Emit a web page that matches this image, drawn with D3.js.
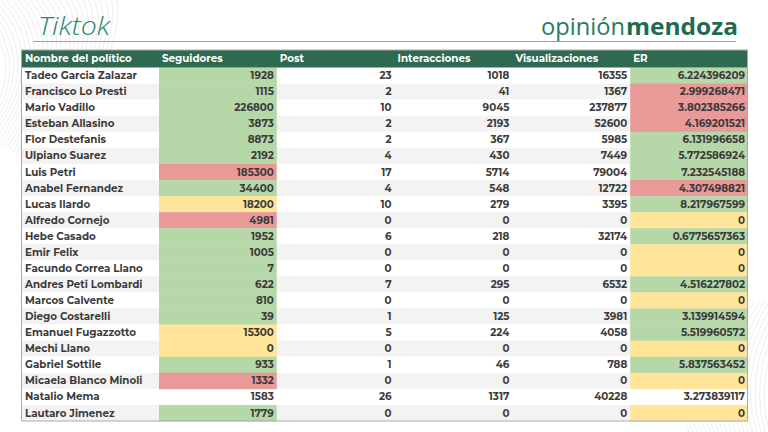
<!DOCTYPE html>
<html><head><meta charset="utf-8">
<script src="https://cdn.jsdelivr.net/npm/d3@7"></script>
<style>html,body{margin:0;padding:0;background:#fff;overflow:hidden}</style>
</head><body><svg id="c" width="768" height="432"></svg>
<script>
const names = ["Tadeo Garcia Zalazar","Francisco Lo Presti","Mario Vadillo","Esteban Allasino","Flor Destefanis","Ulpiano Suarez","Luis Petri","Anabel Fernandez","Lucas Ilardo","Alfredo Cornejo","Hebe Casado","Emir Felix","Facundo Correa Llano","Andres Peti Lombardi","Marcos Calvente","Diego Costarelli","Emanuel Fugazzotto","Mechi Llano","Gabriel Sottile","Micaela Blanco Minoli","Natalio Mema","Lautaro Jimenez"];
const seguidores = [1928,1115,226800,3873,8873,2192,185300,34400,18200,4981,1952,1005,7,622,810,39,15300,0,933,1332,1583,1779];
const posts = [23,2,10,2,2,4,17,4,10,0,6,0,0,7,0,1,5,0,1,0,26,0];
const interacciones = [1018,41,9045,2193,367,430,5714,548,279,0,218,0,0,295,0,125,224,0,46,0,1317,0];
const visualizaciones = [16355,1367,237877,52600,5985,7449,79004,12722,3395,0,32174,0,0,6532,0,3981,4058,0,788,0,40228,0];
const er = ["6.224396209","2.999268471","3.802385266","4.169201521","6.131996658","5.772586924","7.232545188","4.307498821","8.217967599","0","0.6775657363","0","0","4.516227802","0","3.139914594","5.519960572","0","5.837563452","0","3.273839117","0"];
// conditional formatting categories: g = green, r = red, y = yellow, n = none
const segFlags = ["g","g","g","g","g","g","r","g","y","r","g","g","g","g","g","g","y","y","g","r","n","g"];
const erFlags  = ["g","r","r","r","g","g","g","r","g","y","g","y","y","g","y","g","g","y","g","y","n","y"];
const headers = ["Nombre del político","Seguidores","Post","Interacciones","Visualizaciones","ER"];
const title = "Tiktok";
const brand = ["opinión","mendoza"];

const flagColor = {g:"#b6d7a8", r:"#ea9999", y:"#ffe599", n:null};
const svg = d3.select("#c");
const font = "'Montserrat','Open Sans',sans-serif";

// decorative faint line patterns in corners
const deco = svg.append("g").attr("fill","none").attr("stroke","#e6e6e6").attr("stroke-width",0.7);
d3.range(0, 26).forEach(i => {
  deco.append("path").attr("d", `M${-40+i*6},${-10} Q${40+i*4},${60-i*2} ${-20+i*3},${130+i*2}`);
});
d3.range(0, 28).forEach(i => {
  deco.append("path").attr("d", `M${700+i*5},${300} Q${650+i*5},${380} ${700+i*4},${450}`);
});

// title
svg.append("text").attr("x",38).attr("y",35).text(title)
  .attr("font-family","'Open Sans', Lato, sans-serif").attr("font-style","italic").attr("font-weight",300)
  .attr("font-size",25).attr("fill","#2a8a6c")
  .attr("textLength",72).attr("lengthAdjust","spacingAndGlyphs");
svg.append("text").attr("x",541).attr("y",35).text(brand[0])
  .attr("font-family","'Open Sans', sans-serif").attr("font-size",24).attr("font-weight",400).attr("fill","#2a7b5e")
  .attr("textLength",84).attr("lengthAdjust","spacingAndGlyphs");
svg.append("text").attr("x",626).attr("y",35).text(brand[1])
  .attr("font-family","'Open Sans', sans-serif").attr("font-size",24).attr("font-weight",700).attr("fill","#1d6b50")
  .attr("textLength",112).attr("lengthAdjust","spacingAndGlyphs");
svg.append("line").attr("x1",33).attr("x2",736).attr("y1",41.5).attr("y2",41.5).attr("stroke","#9aa5a0").attr("stroke-width",1);

// scales
const tableLeft = 21, nameRight = 159, tableRight = 748;
const headerTop = 50, headerBottom = 67.5, tableBottom = 421;
const x = d3.scaleBand().domain(headers.slice(1)).range([nameRight, tableRight]);
const y = d3.scaleBand().domain(names).range([headerBottom, tableBottom]);

const cols = [seguidores, posts, interacciones, visualizaciones, er];
const rows = names.map((n,i) => ({name:n, i, vals: cols.map(c => c[i])}));

// striped rows
svg.append("g").selectAll("rect").data(rows).join("rect")
  .attr("x",tableLeft).attr("width",tableRight-tableLeft)
  .attr("y",d=>y(d.name)).attr("height",y.bandwidth())
  .attr("fill",d=>d.i%2 ? "#f3f3f3" : "#ffffff");

// conditional cells
svg.append("g").selectAll("rect").data(rows.filter(d=>flagColor[segFlags[d.i]])).join("rect")
  .attr("x",x("Seguidores")).attr("width",x.bandwidth())
  .attr("y",d=>y(d.name)).attr("height",y.bandwidth()+0.3)
  .attr("fill",d=>flagColor[segFlags[d.i]]);
svg.append("g").selectAll("rect").data(rows.filter(d=>flagColor[erFlags[d.i]])).join("rect")
  .attr("x",x("ER")).attr("width",x.bandwidth())
  .attr("y",d=>y(d.name)).attr("height",y.bandwidth()+0.3)
  .attr("fill",d=>flagColor[erFlags[d.i]]);

// header
svg.append("rect").attr("x",tableLeft).attr("y",headerTop).attr("width",tableRight-tableLeft)
  .attr("height",headerBottom-headerTop).attr("fill","#2f6a50");
const hx = h => h===headers[0] ? tableLeft+4 : x(h)+3;
svg.append("g").selectAll("text").data(headers).join("text")
  .attr("x",hx).attr("y",(headerTop+headerBottom)/2+3.6)
  .text(d=>d).attr("font-family",font).attr("font-weight",700).attr("font-size",10.3).attr("fill","#ffffff");

// names and values
const txt = svg.append("g").attr("font-family",font).attr("font-weight",700).attr("font-size",10.3).attr("fill","#3b3b3b");
txt.selectAll("text.n").data(rows).join("text").attr("class","n")
  .attr("x",tableLeft+4).attr("y",d=>y(d.name)+y.bandwidth()/2+3.6).text(d=>d.name);
headers.slice(1).forEach((h,ci) => {
  txt.selectAll(null).data(rows).join("text")
    .attr("x",x(h)+x.bandwidth()-3).attr("y",d=>y(d.name)+y.bandwidth()/2+3.6)
    .attr("text-anchor","end").text(d=>d.vals[ci]);
});

// border
svg.append("rect").attr("x",tableLeft+0.5).attr("y",headerTop).attr("width",tableRight-tableLeft-1)
  .attr("height",tableBottom-headerTop).attr("fill","none").attr("stroke","#a9a9a9").attr("stroke-width",1);
</script></body></html>
